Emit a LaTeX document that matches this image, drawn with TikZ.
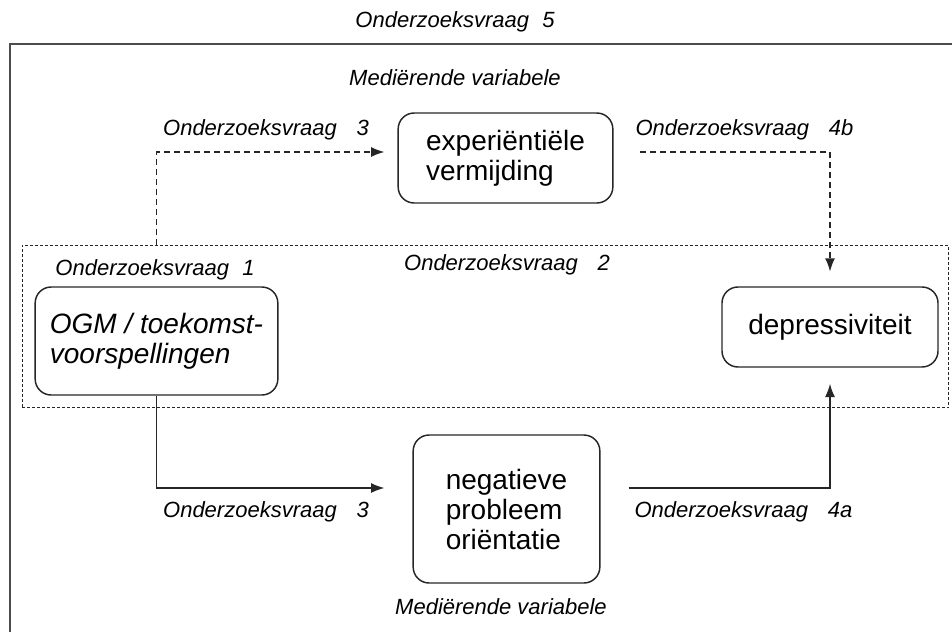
\documentclass[tikz,border=0pt]{standalone}
\usepackage{fontspec}
\setmainfont{Liberation Sans}
\usetikzlibrary{arrows.meta}
\begin{document}
\begin{tikzpicture}[x=0.75pt,y=-0.75pt,
  box/.style={draw=black!85,line width=1.1pt,rounded corners=12pt,align=left,font=\fontsize{21}{22.5}\selectfont},
  lab/.style={font=\fontsize{16.5}{18}\selectfont\itshape},
  pijl/.style={draw=black!85,line width=1.1pt,-{Latex[length=10pt,width=7.5pt]}},
  stippel/.style={pijl,dash pattern=on 4.5pt off 3pt}]
\useasboundingbox (0,0) rectangle (952,632);
\draw[line width=2pt,black!70] (952,44) -- (10,44) -- (10,632); % outer frame, open at right and bottom
\node[draw=black!85,line width=0.9pt,dash pattern=on 2.25pt off 1.5pt,minimum width=695pt,minimum height=122pt,inner sep=0pt] (kader) at (485.5,326.5) {};
% edit here for the boxes
\node[box,minimum width=161pt,minimum height=67.5pt] (exp) at (505.5,158) {experiëntiële\\vermijding};
\node[box,font=\fontsize{21}{22.5}\selectfont\itshape,minimum width=182pt,minimum height=81pt] (ogm) at (156.5,341) {OGM / toekomst-\\voorspellingen};
\node[box,minimum width=162pt,minimum height=60pt] (dep) at (830,327) {depressiviteit};
\node[box,minimum width=140pt,minimum height=111pt] (neg) at (506.5,509) {negatieve\\probleem\\oriëntatie};
% edit here for the labels
\node[lab] (vraag5) at (455,22) {Onderzoeksvraag\hspace{0.6em}5};
\node[lab] (medboven) at (455,78) {Mediërende variabele};
\node[lab] (vraag3a) at (266,130) {Onderzoeksvraag\hspace{0.9em}3};
\node[lab] (vraag4b) at (744.5,130) {Onderzoeksvraag\hspace{0.9em}4b};
\node[lab] (vraag1) at (155,270) {Onderzoeksvraag\hspace{0.6em}1};
\node[lab] (vraag2) at (507,265) {Onderzoeksvraag\hspace{0.9em}2};
\node[lab] (vraag3b) at (266,512) {Onderzoeksvraag\hspace{0.9em}3};
\node[lab] (vraag4a) at (743.5,512) {Onderzoeksvraag\hspace{0.9em}4a};
\node[lab] (medonder) at (501,607) {Mediërende variabele};
% dashed route over the top
\draw[stippel,shorten >=9.75pt] (kader.north -| ogm) |- ([yshift=4.5pt]exp.west);
\draw[stippel,shorten <=20pt,shorten >=11pt] ([yshift=4.5pt]exp.east) -| (dep.north);
% solid route underneath
\draw[pijl,shorten >=21pt] (ogm.south) |- ([yshift=15.75pt]neg.west);
\draw[pijl,shorten <=21pt,shorten >=12pt] ([yshift=15.75pt]neg.east) -| (dep.south);
\end{tikzpicture}
\end{document}
